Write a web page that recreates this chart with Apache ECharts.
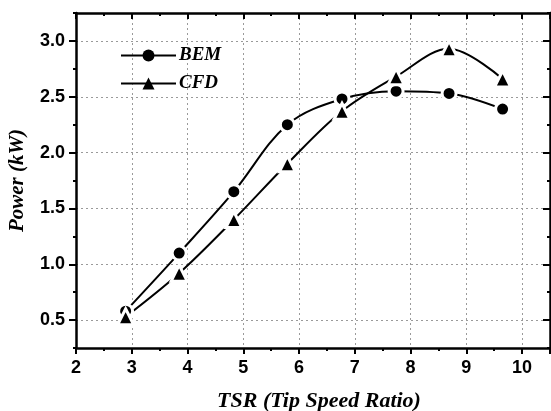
<!DOCTYPE html>
<html>
<head>
<meta charset="utf-8">
<script src="https://cdn.jsdelivr.net/npm/echarts@6/dist/echarts.min.js"></script>
<style>
  html, body { margin: 0; padding: 0; background: #fff; }
  #chart { width: 551px; height: 411px; }
</style>
</head>
<body>
<div id="chart"></div>
<script>
// values
const tsr = [2.89, 3.85, 4.83, 5.79, 6.77, 7.74, 8.69, 9.65];
const bemPower = [0.58, 1.10, 1.65, 2.25, 2.48, 2.55, 2.53, 2.39];
const cfdPower = [0.53, 0.92, 1.40, 1.90, 2.37, 2.68, 2.93, 2.66];
const yMajorTicks = [0.5, 1.0, 1.5, 2.0, 2.5, 3.0];

const chart = echarts.init(document.getElementById("chart"));

const sansBold = { fontFamily: "Liberation Sans", fontWeight: "bold", fontSize: 18, color: "#000" };
const titleFont = { fontFamily: "Liberation Serif", fontStyle: "italic", fontWeight: "bold", fontSize: 21, color: "#000" };
const gridLine = { color: "#9a9a9a", width: 1, type: [2, 3] };

const xBase = { type: "value", min: 2, max: 10.5, gridIndex: 0 };
const yBase = { type: "value", min: 0.25, max: 3.25, gridIndex: 0 };

chart.setOption({
  animation: false,
  grid: { left: 76, right: 1, top: 13, bottom: 63, containLabel: false, outerBoundsMode: "none" },
  legend: {
    orient: "vertical",
    left: 115,
    top: 41,
    itemWidth: 55,
    itemHeight: 15,
    itemGap: 9,
    textStyle: { fontFamily: "Liberation Serif", fontStyle: "italic", fontWeight: "bold", fontSize: 19, color: "#000", padding: [0, 0, 0, -2] },
    itemStyle: { borderWidth: 0 },
    data: ["BEM", "CFD"],
  },
  xAxis: [
    {
      ...xBase,
      position: "bottom",
      interval: 1,
      name: "TSR (Tip Speed Ratio)",
      nameLocation: "middle",
      nameGap: 42,
      nameTextStyle: { ...titleFont, fontSize: 22, padding: [0, 0, 0, 12] },
      axisLine: { lineStyle: { color: "#000", width: 2.5 } },
      axisTick: { length: 6, lineStyle: { width: 2, color: "#000" } },
      axisLabel: {
        ...sansBold,
        margin: 11,
        formatter: (v) => (Number.isInteger(v) ? String(v) : ""),
      },
      splitLine: { show: true, lineStyle: gridLine },
    },
    {
      ...xBase,
      position: "bottom",
      interval: 0.5,
      axisLine: { show: false },
      axisTick: { length: 3, lineStyle: { width: 2, color: "#000" } },
      axisLabel: { show: false },
      splitLine: { show: false },
    },
    {
      ...xBase,
      position: "top",
      interval: 1,
      axisLine: { lineStyle: { color: "#000", width: 2.5 } },
      axisTick: { inside: true, length: 6, lineStyle: { width: 2, color: "#000" } },
      axisLabel: { show: false },
      splitLine: { show: false },
    },
    {
      ...xBase,
      position: "top",
      interval: 0.5,
      axisLine: { show: false },
      axisTick: { inside: true, length: 3, lineStyle: { width: 2, color: "#000" } },
      axisLabel: { show: false },
      splitLine: { show: false },
    },
  ],
  yAxis: [
    {
      ...yBase,
      position: "left",
      interval: 0.25,
      name: "Power (kW)",
      nameLocation: "middle",
      nameGap: 48,
      nameTextStyle: { ...titleFont, padding: [0, 0, 0, 0] },
      axisLine: { lineStyle: { color: "#000", width: 2.5 } },
      axisTick: { length: 3, lineStyle: { width: 2, color: "#000" } },
      axisLabel: {
        ...sansBold,
        margin: 11,
        formatter: (v) => (Number.isInteger(Math.round(v * 100) / 50) ? v.toFixed(1) : ""),
      },
      splitLine: { show: true, lineStyle: { ...gridLine, color: ["rgba(0,0,0,0)", "#9a9a9a"] } },
    },
    {
      ...yBase,
      position: "left",
      interval: 0.25,
      axisLine: { show: false },
      axisTick: { length: 7, customValues: yMajorTicks, lineStyle: { width: 2, color: "#000" } },
      axisLabel: { show: false },
      splitLine: { show: false },
    },
    {
      ...yBase,
      position: "right",
      interval: 0.25,
      axisLine: { lineStyle: { color: "#000", width: 2.5 } },
      axisTick: { inside: true, length: 3, lineStyle: { width: 2, color: "#000" } },
      axisLabel: { show: false },
      splitLine: { show: false },
    },
    {
      ...yBase,
      position: "right",
      interval: 0.25,
      axisLine: { show: false },
      axisTick: { inside: true, length: 7, customValues: yMajorTicks, lineStyle: { width: 2, color: "#000" } },
      axisLabel: { show: false },
      splitLine: { show: false },
    },
  ],
  series: [
    {
      name: "BEM",
      type: "line",
      xAxisIndex: 0,
      yAxisIndex: 0,
      data: tsr.map((x, i) => [x, bemPower[i]]),
      smooth: 0.35,
      symbol: "circle",
      symbolSize: 14,
      lineStyle: { color: "#000", width: 2 },
      itemStyle: { color: "#000", borderColor: "#fff", borderWidth: 3 },
      z: 3,
    },
    {
      name: "CFD",
      type: "line",
      xAxisIndex: 0,
      yAxisIndex: 0,
      data: tsr.map((x, i) => [x, cfdPower[i]]),
      smooth: 0.35,
      symbol: "triangle",
      symbolSize: 16,
      lineStyle: { color: "#000", width: 2 },
      itemStyle: { color: "#000", borderColor: "#fff", borderWidth: 3 },
      z: 3,
    },
  ],
});
</script>
</body>
</html>
